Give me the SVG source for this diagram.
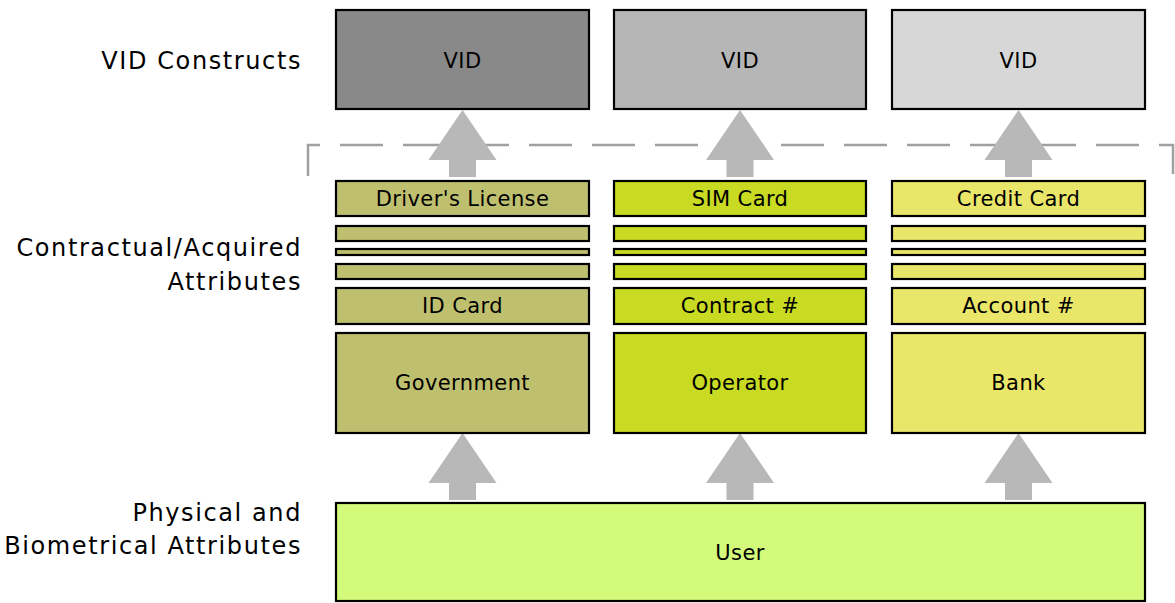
<svg xmlns="http://www.w3.org/2000/svg" width="1175" height="603" viewBox="0 0 1175 603">
<defs>
<style>
.box{stroke:#000;stroke-width:2.2}
.t{font-family:"DejaVu Sans","Liberation Sans",sans-serif;font-size:21px;letter-spacing:0.4px;text-anchor:middle;fill:#000}
.lbl{font-family:"DejaVu Sans","Liberation Sans",sans-serif;font-size:24px;letter-spacing:1.6px;text-anchor:end;fill:#000}
.arr{fill:#b8b8b8}
.gov{fill:#bfc06f}
.op{fill:#c8da22}
.bank{fill:#eae66a}
</style>
<path id="up" class="arr" d="M0,0 L34,50 L13.5,50 L13.5,67 L-13.5,67 L-13.5,50 L-34,50 Z"/>
</defs>
<rect width="1175" height="603" fill="#fff"/>
<g id="labels">
<text class="lbl" x="302" y="69">VID Constructs</text>
<text class="lbl" x="302" y="256">Contractual/Acquired</text>
<text class="lbl" x="302" y="290">Attributes</text>
<text class="lbl" x="302" y="521">Physical and</text>
<text class="lbl" x="302" y="554">Biometrical Attributes</text>
</g>
<g id="connectors">
<path d="M308,176 L308,145 L1173,145 L1173,181" fill="none" stroke="#a0a0a0" stroke-width="2.5" stroke-dasharray="43 20"/>
<use href="#up" x="462.5" y="110"/>
<use href="#up" x="740" y="110"/>
<use href="#up" x="1018.5" y="110"/>
<use href="#up" x="462.5" y="433"/>
<use href="#up" x="740" y="433"/>
<use href="#up" x="1018.5" y="433"/>
</g>
<g id="vid1"><rect class="box" x="336" y="10" width="253" height="99" fill="#898989"/><text class="t" x="462.5" y="68">VID</text></g>
<g id="vid2"><rect class="box" x="614" y="10" width="252" height="99" fill="#b6b6b6"/><text class="t" x="740" y="68">VID</text></g>
<g id="vid3"><rect class="box" x="892" y="10" width="253" height="99" fill="#d7d7d7"/><text class="t" x="1018.5" y="68">VID</text></g>
<g id="col1">
<g id="drivers-license"><rect class="box gov" x="336" y="181" width="253" height="35"/><text class="t" x="462.5" y="206">Driver's License</text></g>
<rect class="box gov" x="336" y="226" width="253" height="15"/>
<rect class="box gov" x="336" y="249" width="253" height="6"/>
<rect class="box gov" x="336" y="264" width="253" height="15"/>
<g id="id-card"><rect class="box gov" x="336" y="288" width="253" height="36"/><text class="t" x="462.5" y="313">ID Card</text></g>
<g id="government"><rect class="box gov" x="336" y="333" width="253" height="100"/><text class="t" x="462.5" y="390">Government</text></g>
</g>
<g id="col2">
<g id="sim-card"><rect class="box op" x="614" y="181" width="252" height="35"/><text class="t" x="740" y="206">SIM Card</text></g>
<rect class="box op" x="614" y="226" width="252" height="15"/>
<rect class="box op" x="614" y="249" width="252" height="6"/>
<rect class="box op" x="614" y="264" width="252" height="15"/>
<g id="contract"><rect class="box op" x="614" y="288" width="252" height="36"/><text class="t" x="740" y="313">Contract #</text></g>
<g id="operator"><rect class="box op" x="614" y="333" width="252" height="100"/><text class="t" x="740" y="390">Operator</text></g>
</g>
<g id="col3">
<g id="credit-card"><rect class="box bank" x="892" y="181" width="253" height="35"/><text class="t" x="1018.5" y="206">Credit Card</text></g>
<rect class="box bank" x="892" y="226" width="253" height="15"/>
<rect class="box bank" x="892" y="249" width="253" height="6"/>
<rect class="box bank" x="892" y="264" width="253" height="15"/>
<g id="account"><rect class="box bank" x="892" y="288" width="253" height="36"/><text class="t" x="1018.5" y="313">Account #</text></g>
<g id="bank"><rect class="box bank" x="892" y="333" width="253" height="100"/><text class="t" x="1018.5" y="390">Bank</text></g>
</g>
<g id="user"><rect class="box" x="336" y="503" width="809" height="98" fill="#d4fa7b"/><text class="t" x="740" y="560">User</text></g>
</svg>
